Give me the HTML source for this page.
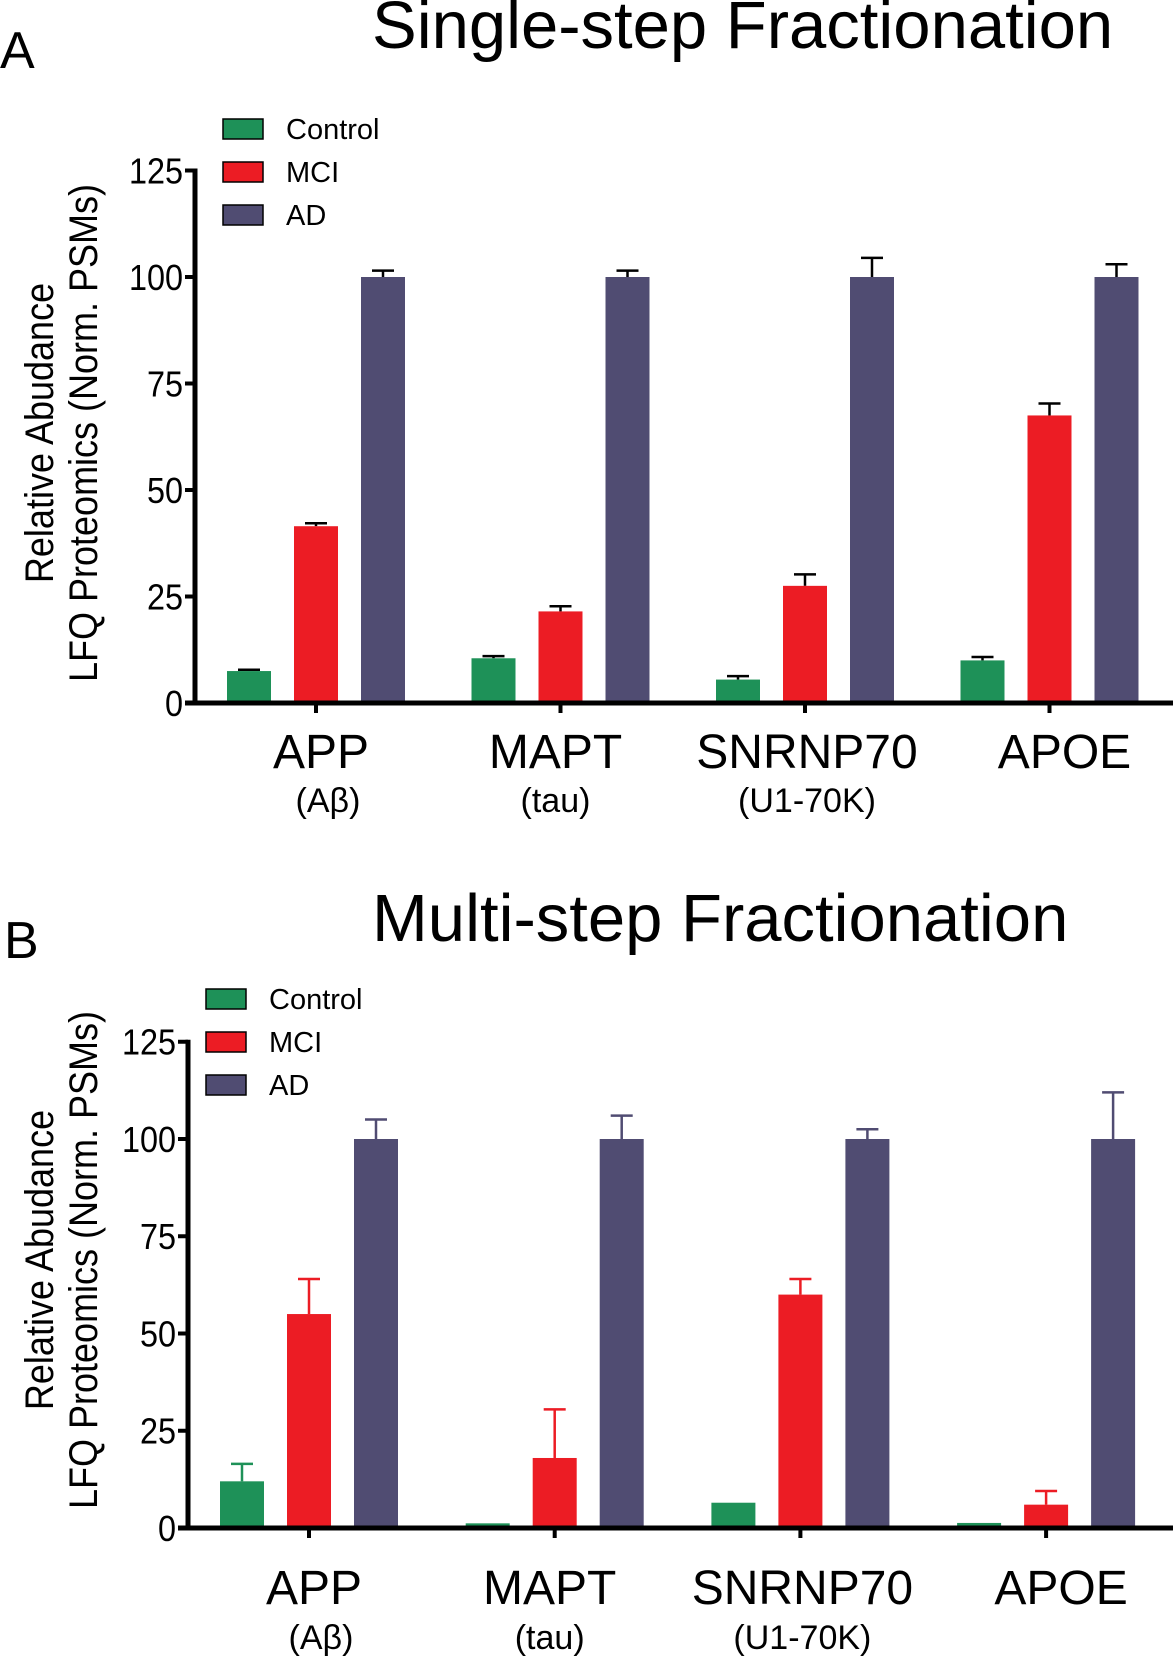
<!DOCTYPE html>
<html><head><meta charset="utf-8"><style>
html,body{margin:0;padding:0;background:#fff;}
svg{display:block;font-family:"Liberation Sans",Arial,sans-serif;}
</style></head><body>
<svg id="fig" width="1175" height="1658" viewBox="0 0 1175 1658" xmlns="http://www.w3.org/2000/svg">
<text x="0" y="68" font-size="52">A</text>
<text x="372" y="48" font-size="67">Single-step Fractionation</text>
<text x="4" y="958" font-size="52">B</text>
<text x="372" y="941" font-size="67">Multi-step Fractionation</text>
</svg>
<script>
const categories = ["APP","MAPT","SNRNP70","APOE"];
const subLabels = ["(Aβ)","(tau)","(U1-70K)",""];
const seriesNames = ["Control","MCI","AD"];
const yTicks = [0,25,50,75,100,125];
const aControl = [7.5,10.5,5.5,10];
const aMCI = [41.5,21.5,27.5,67.5];
const aAD = [100,100,100,100];
const aControlErr = [0.3,0.5,0.8,0.8];
const aMCIErr = [0.7,1.2,2.7,2.8];
const aADErr = [1.5,1.5,4.5,3];
const bControl = [12,1.2,6.5,1.3];
const bMCI = [55,18,60,6];
const bAD = [100,100,100,100];
const bControlErr = [4.5,0,0,0];
const bMCIErr = [9,12.5,4,3.5];
const bADErr = [5,6,2.5,12];

const colors = ["#1e9158","#ec1c24","#504c72"];
const labelShift = [5,-5,2,15];
const subShift = [12,-5,2,0];
const NS = "http://www.w3.org/2000/svg";
const svg = document.getElementById('fig');
function mk(tag, attrs, parent){const e=document.createElementNS(NS,tag);for(const k in attrs)e.setAttribute(k,attrs[k]);(parent||svg).appendChild(e);return e;}

function panel(p, cfg){
  const g = mk('g',{});
  
  
  const y = v => cfg.y0 - v*(cfg.y0-cfg.y100)/100;
  const cx = i => cfg.c0 + i*cfg.dc;
  const vals=[cfg.ctrl,cfg.mci,cfg.ad], errs=[cfg.ctrlE,cfg.mciE,cfg.adE];
  for(let s=0;s<3;s++){
    for(let i=0;i<categories.length;i++){
      const x = cx(i) + (s-1)*cfg.sp - cfg.bw/2;
      const v = vals[s][i], e = errs[s][i];
      const ec = cfg.errBlack ? '#000' : colors[s];
      if(e>0){
        const l=mk('line',{x1:x+cfg.bw/2,x2:x+cfg.bw/2,y1:y(v),y2:y(v+e),stroke:ec,'stroke-width':2.5},g);
        
        
        const c=mk('line',{x1:x+cfg.bw/2-11,x2:x+cfg.bw/2+11,y1:y(v+e),y2:y(v+e),stroke:ec,'stroke-width':2.5},g);
        
        
      }
      const r=mk('rect',{x:x,y:y(v),width:cfg.bw,height:Math.max(y(0)-y(v),1.5),fill:colors[s]},g);
      
      
    }
  }
  const ya=mk('line',{x1:cfg.ax,x2:cfg.ax,y1:y(125)-2,y2:y(0)+2,stroke:'#000','stroke-width':5},g);
  
  
  const xa=mk('line',{x1:cfg.ax-10,x2:1173,y1:y(0),y2:y(0),stroke:'#000','stroke-width':5},g);
  
  
  yTicks.forEach(t=>{
    mk('line',{x1:cfg.ax-10,x2:cfg.ax,y1:y(t),y2:y(t),stroke:'#000','stroke-width':4},g);
    const tx=mk('text',{x:cfg.ax-12,y:y(t)+13,'font-size':36,'text-anchor':'end',transform:`translate(${cfg.ax-12},0) scale(0.9,1) translate(${-(cfg.ax-12)},0)`},g);
    tx.textContent=t;
    
    
  });
  categories.forEach((c,i)=>{
    mk('line',{x1:cx(i),x2:cx(i),y1:y(0),y2:y(0)+10,stroke:'#000','stroke-width':4},g);
    const t=mk('text',{x:cx(i)+labelShift[i],y:cfg.lab1,'font-size':48,'text-anchor':'middle'},g);
    t.textContent=c;
    
    
    if(subLabels[i]){
      const s=mk('text',{x:cx(i)+subShift[i],y:cfg.lab2,'font-size':34,'text-anchor':'middle'},g);
      s.textContent=subLabels[i];
      
      
    }
  });
  const yt=mk('text',{transform:`translate(53,${cfg.ymid}) rotate(-90) scale(0.9,1)`,'font-size':40,'text-anchor':'middle'},g);
  yt.textContent='Relative Abudance';
  
  
  const yt2=mk('text',{transform:`translate(97,${cfg.ymid}) rotate(-90) scale(0.9,1)`,'font-size':40,'text-anchor':'middle'},g);
  yt2.textContent='LFQ Proteomics (Norm. PSMs)';
  
  
  seriesNames.forEach((n,s)=>{
    const ly=cfg.legY + s*43;
    const r=mk('rect',{x:cfg.legX,y:ly-10,width:40,height:20,fill:colors[s],stroke:'#000','stroke-width':1.5},g);
    
    
    const t=mk('text',{x:cfg.legX+63,y:ly+10,'font-size':29},g);
    t.textContent=n;
    
    
  });
}
panel('panel-a',{y0:703,y100:277,ax:195,c0:316,dc:244.5,sp:67,bw:44,ctrl:aControl,mci:aMCI,ad:aAD,ctrlE:aControlErr,mciE:aMCIErr,adE:aADErr,errBlack:true,lab1:768,lab2:812,ymid:433,legX:223,legY:129});
panel('panel-b',{y0:1528,y100:1139,ax:188,c0:309,dc:245.7,sp:67,bw:44,ctrl:bControl,mci:bMCI,ad:bAD,ctrlE:bControlErr,mciE:bMCIErr,adE:bADErr,errBlack:false,lab1:1604,lab2:1649,ymid:1260,legX:206,legY:999});
</script>
</body></html>
